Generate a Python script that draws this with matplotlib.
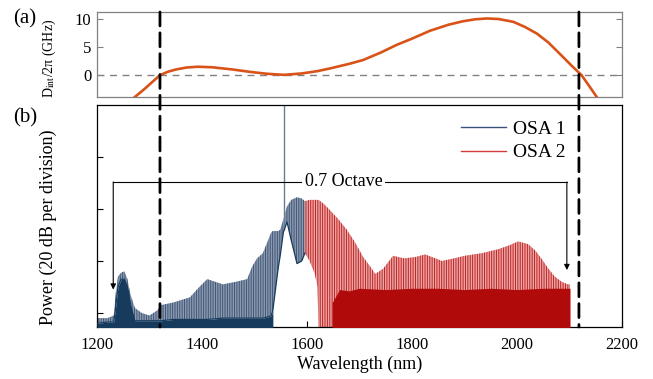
import matplotlib
matplotlib.use('Agg')
import matplotlib.pyplot as plt
from matplotlib.patches import ConnectionPatch

plt.rcParams['font.family'] = ['Liberation Serif', 'DejaVu Serif']
plt.rcParams['mathtext.fontset'] = 'stix'
plt.rcParams['hatch.linewidth'] = 0.7

# (a) integrated dispersion
wl_d = [1272, 1285, 1295, 1308, 1320, 1335, 1350, 1370, 1392, 1420, 1459, 1490, 1523,
        1556, 1590, 1619, 1644, 1680, 1707, 1740, 1771, 1800, 1834, 1870, 1897, 1920,
        1943, 1965, 1993, 2015, 2038, 2060, 2088, 2105, 2123, 2138, 2152]
dint = [-3.9, -2.9, -2.1, -1.0, 0.0, 0.6, 1.0, 1.35, 1.5, 1.4, 1.0, 0.6, 0.25,
        0.05, 0.3, 0.7, 1.2, 2.0, 2.7, 4.0, 5.4, 6.5, 7.9, 9.0, 9.6, 9.95,
        10.1, 10.0, 9.5, 8.6, 7.4, 5.8, 3.2, 1.6, 0.0, -2.0, -3.9]

# (b) OSA 1 spectrum: comb envelope (top) and lower edge (low), dB
wl1 = [1200, 1220, 1232, 1236, 1240, 1246, 1252, 1258, 1264, 1272, 1285, 1300, 1315,
       1322, 1345, 1377, 1395, 1410, 1440, 1465, 1486, 1496, 1505, 1516, 1526, 1532,
       1535, 1545, 1549, 1555, 1562, 1570, 1581, 1590, 1596]
top1 = [-82, -82, -81, -72, -66, -64.5, -64, -67, -73, -78, -80, -81, -79,
        -77, -76, -74, -70, -67, -69, -68, -67, -62, -59, -57, -52, -49,
        -48.5, -48.5, -48, -44, -39, -36.5, -35.5, -36, -37]
low1 = [-84, -83.5, -83.5, -77, -70, -67, -67, -70, -77, -83, -83, -83, -83,
        -83, -82.5, -82.5, -82.5, -82.5, -82, -82, -82, -82, -82, -82, -81.5, -81,
        -79, -63, -58, -49, -45, -52, -61, -60, -57]
pump_wl = 1556
pump_peak = 0

# (b) OSA 2 spectrum
wl2 = [1596, 1605, 1615, 1620, 1622, 1632, 1644, 1660, 1676, 1692, 1707, 1720, 1730,
       1745, 1764, 1785, 1806, 1825, 1845, 1857, 1880, 1901, 1933, 1964, 1985, 2002,
       2021, 2035, 2048, 2060, 2072, 2085, 2097, 2101]
top2 = [-37, -36.5, -36.5, -36.5, -36.5, -38, -40.5, -44, -48, -53, -58.5, -62, -65,
        -63, -58, -59, -58.5, -57.5, -59, -60, -59, -58, -57, -55.5, -54, -52.5,
        -53.5, -56, -59.5, -63, -66, -68, -69, -69]
low2 = [-57, -60, -65, -70, -86, -86, -86, -86, -86, -86, -86, -86, -86,
        -86, -86, -86, -86, -86, -86, -86, -86, -86, -86, -86, -86, -86,
        -86, -86, -86, -86, -86, -86, -86, -86]
wl2_floor = [1648, 1662, 1680, 1700, 1750, 1800, 1850, 1900, 1950, 2000, 2050, 2101]
floor2 = [-76, -71, -71.5, -70.5, -71, -70.5, -70.5, -71, -70.5, -71, -70.5, -70.5]

fig = plt.figure(figsize=(6.53, 3.79), dpi=100)
ax_a = fig.add_axes([0.1485, 0.744, 0.804, 0.2243])
ax_b = fig.add_axes([0.1485, 0.1372, 0.804, 0.5858])

# panel (a)
ax_a.plot(wl_d, dint, color='#d95319', lw=1.9, zorder=3)
ax_a.axhline(0, color='#808080', lw=1.0, ls=(0, (5, 4)))
ax_a.set_xlim(1200, 2200)
ax_a.set_ylim(-3.9, 11.25)
ax_a.set_yticks([0, 5, 10])
ax_a.tick_params(axis='y', direction='in', right=True, labelsize=12, pad=4,
                 length=4, color='#808080')
ax_a.tick_params(axis='x', bottom=False, labelbottom=False)
for s in ax_a.spines.values():
    s.set_color('#808080')
    s.set_linewidth(0.9)
ax_a.set_ylabel(r'D$_{\rm int}$/2π (GHz)', fontsize=10)
ax_a.yaxis.set_label_coords(-0.074, 0.45)

# panel (b)
ax_b.fill_between(wl1, low1, top1, facecolor='#8c9ab0', edgecolor='#3f5675',
                  hatch='|||||||', linewidth=0, zorder=2)
ax_b.fill_between(wl1, -90, low1, where=[w <= 1535 for w in wl1],
                  color='#163b5d', linewidth=0, zorder=3)
ax_b.plot(wl1, low1, color='#163b5d', lw=0.9, zorder=3)
ax_b.vlines(pump_wl, -48, pump_peak, color='#6a7b96', lw=1.0, zorder=2)

ax_b.fill_between(wl2, low2, top2, facecolor='#e8a9a9', edgecolor='#c51f1f',
                  hatch='|||||||', linewidth=0, zorder=2)
ax_b.fill_between(wl2_floor, -90, floor2, color='#b10a0a', linewidth=0, zorder=3)

ax_b.plot([], [], color='#3b4f7d', lw=1, label='OSA 1')
ax_b.plot([], [], color='#d23c3c', lw=1, label='OSA 2')
ax_b.legend(loc='upper left', bbox_to_anchor=(0.675, 0.975), frameon=False,
            fontsize=14, borderpad=0, handlelength=2.3, handletextpad=0.35,
            labelspacing=0.3)

ax_b.set_xlim(1200, 2200)
ax_b.set_ylim(-85.4, 0)
ax_b.set_yticks([-80, -60, -40, -20])
ax_b.set_yticklabels([])
ax_b.set_xticks(range(1200, 2201, 200))
ax_b.set_xticks(range(1300, 2200, 200), minor=True)
ax_b.tick_params(which='both', direction='in', length=4, labelsize=12, pad=7)
for s in ax_b.spines.values():
    s.set_linewidth(0.9)
ax_b.set_xlabel('Wavelength (nm)', fontsize=13, labelpad=2)
ax_b.set_ylabel('Power (20 dB per division)', fontsize=13)
ax_b.yaxis.set_label_coords(-0.076, 0.45)

# octave span annotation
oct_left, oct_right, oct_y = 1231, 2095, -29.6
ax_b.plot([oct_left, oct_right], [oct_y, oct_y], color='k', lw=0.8, zorder=4)
ax_b.annotate('', xy=(oct_left, -71), xytext=(oct_left, oct_y),
              arrowprops=dict(arrowstyle='-|>', lw=0.8, color='k', mutation_scale=8,
                              shrinkA=0, shrinkB=0), zorder=4)
ax_b.annotate('', xy=(oct_right, -63.5), xytext=(oct_right, oct_y),
              arrowprops=dict(arrowstyle='-|>', lw=0.8, color='k', mutation_scale=8,
                              shrinkA=0, shrinkB=0), zorder=4)
ax_b.text(1670, oct_y, '0.7 Octave', fontsize=13, ha='center', va='center', zorder=5,
          bbox=dict(facecolor='white', edgecolor='none', pad=2))

# dashed markers through both panels
for x in [1320, 2118]:
    con = ConnectionPatch(xyA=(x, 11.25), coordsA=ax_a.transData,
                          xyB=(x, -85.4), coordsB=ax_b.transData,
                          color='k', lw=2, linestyle=(0, (5, 2.5)), zorder=10)
    fig.add_artist(con)

fig.text(13 / 653, 1 - 19 / 379, '(a)', fontsize=15, va='center')
fig.text(13 / 653, 1 - 118 / 379, '(b)', fontsize=15, va='center')

fig.savefig('out.png', dpi=100)
